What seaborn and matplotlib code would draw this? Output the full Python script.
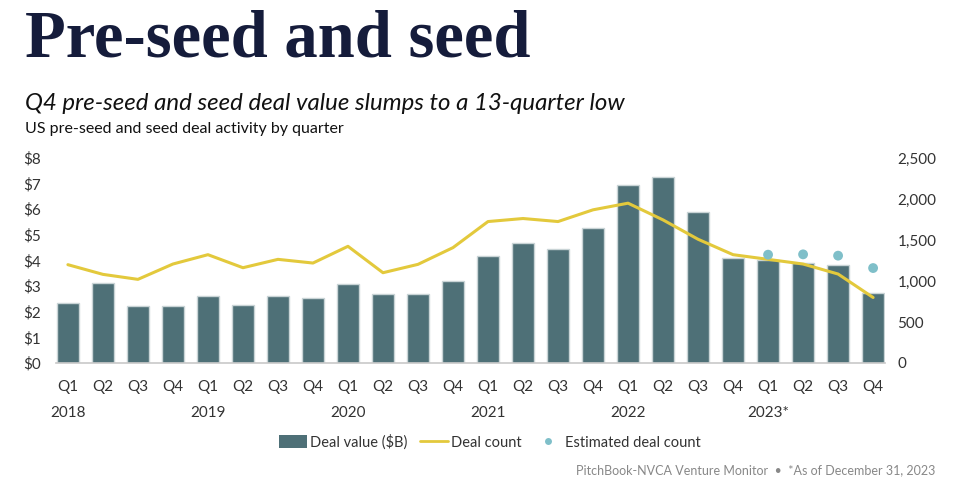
import numpy as np
import pandas as pd
import seaborn as sns
import matplotlib.pyplot as plt
from matplotlib.patches import Patch
from matplotlib.lines import Line2D

# Data
quarters = ["Q1", "Q2", "Q3", "Q4"] * 6
years = ["2018", "2019", "2020", "2021", "2022", "2023*"]
deal_value = [2.35, 3.13, 2.23, 2.23, 2.61, 2.28, 2.61, 2.55,
              3.07, 2.68, 2.68, 3.19, 4.16, 4.67, 4.43, 5.26,
              6.93, 7.25, 5.90, 4.10, 4.02, 3.90, 3.84, 2.74]
deal_count = [1199, 1081, 1020, 1207, 1321, 1162, 1264, 1219,
              1423, 1101, 1203, 1407, 1725, 1762, 1725, 1868,
              1949, 1745, 1509, 1321, 1264, 1207, 1085, 799]
est_idx = [20, 21, 22, 23]
est_count = [1321, 1325, 1309, 1158]

BAR = "#4e7077"
LINE = "#e3c93c"
DOT = "#7fbfc9"
NAVY = "#151c3b"
TXT = "#333333"
TICKFONT = ["Lato", "DejaVu Sans"]

sns.set_style("white")
plt.rcParams["font.family"] = ["Lato", "DejaVu Sans"]

df = pd.DataFrame({"idx": np.arange(24), "value": deal_value, "count": deal_count})

fig = plt.figure(figsize=(9.58, 4.99), dpi=100)
ax = fig.add_axes([56 / 958, 1 - 363 / 499, 829 / 958, 205 / 499])

sns.barplot(data=df, x="idx", y="value", color=BAR, saturation=1,
            width=0.63, edgecolor="#c9d4d6", linewidth=1, ax=ax)
ax.set_ylim(0, 8)
ax.set_xlim(-0.34, 23.34)
ax.set_yticks(range(9))
ax.set_yticklabels([f"${v}" for v in range(9)], family=TICKFONT, fontsize=11, color=TXT)
ax.set_xticks(range(24))
ax.set_xticklabels(quarters, family=TICKFONT, fontsize=11, color=TXT)
ax.tick_params(axis="x", length=0, pad=12)
ax.tick_params(axis="y", length=0, pad=11)
ax.set_xlabel("")
ax.set_ylabel("")
for s in ["top", "right", "left"]:
    ax.spines[s].set_visible(False)
ax.spines["bottom"].set_color("#c8c8c8")
ax.spines["bottom"].set_linewidth(1.2)

for i, yr in enumerate(years):
    ax.text(i * 4, -0.245, yr, transform=ax.get_xaxis_transform(),
            ha="center", va="center", family=TICKFONT, fontsize=11, color=TXT)

ax2 = ax.twinx()
sns.lineplot(data=df, x="idx", y="count", color=LINE, linewidth=2.2, ax=ax2)
sns.scatterplot(x=est_idx, y=est_count, color=DOT, s=50, edgecolor="none", ax=ax2, zorder=5)
ax2.set_ylim(0, 2500)
ax2.set_yticks(range(0, 2501, 500))
ax2.set_yticklabels([f"{v:,}" for v in range(0, 2501, 500)], family=TICKFONT, fontsize=11, color=TXT)
ax2.tick_params(axis="y", length=0, pad=9)
ax2.set_ylabel("")
ax2.set_xlabel("")
for s in ax2.spines.values():
    s.set_visible(False)

# Titles
fig.text(25 / 958, 1 - 40 / 499, "Pre-seed and seed", family=["Liberation Serif", "DejaVu Serif"],
         fontweight="bold", fontsize=48, color=NAVY, va="center", ha="left")
fig.text(25 / 958, 1 - 104 / 499, "Q4 pre-seed and seed deal value slumps to a 13-quarter low",
         style="italic", fontsize=17.3, color="#111111", va="center", ha="left")
fig.text(25 / 958, 1 - 129 / 499, "US pre-seed and seed deal activity by quarter",
         fontsize=11.5, color="#111111", va="center", ha="left")

handles = [Patch(facecolor=BAR, edgecolor="none", label="Deal value ($B)"),
           Line2D([0], [0], color=LINE, lw=2, label="Deal count"),
           Line2D([0], [0], marker="o", color="none", markerfacecolor=DOT,
                  markeredgecolor="none", markersize=5, label="Estimated deal count")]
leg = fig.legend(handles=handles, loc="center", bbox_to_anchor=(490 / 958, 1 - 442 / 499), ncol=3,
                 frameon=False, handlelength=1.9, handleheight=1.0, handletextpad=0.2,
                 columnspacing=0.9, prop={"family": TICKFONT, "size": 10.5})
for t in leg.get_texts():
    t.set_color(TXT)

fig.text(935 / 958, 1 - 470 / 499, "PitchBook-NVCA Venture Monitor  \u2022  *As of December 31, 2023",
         family=TICKFONT, fontsize=9, color="#888888", ha="right", va="center")

fig.savefig("out.png", dpi=100, facecolor="white")
